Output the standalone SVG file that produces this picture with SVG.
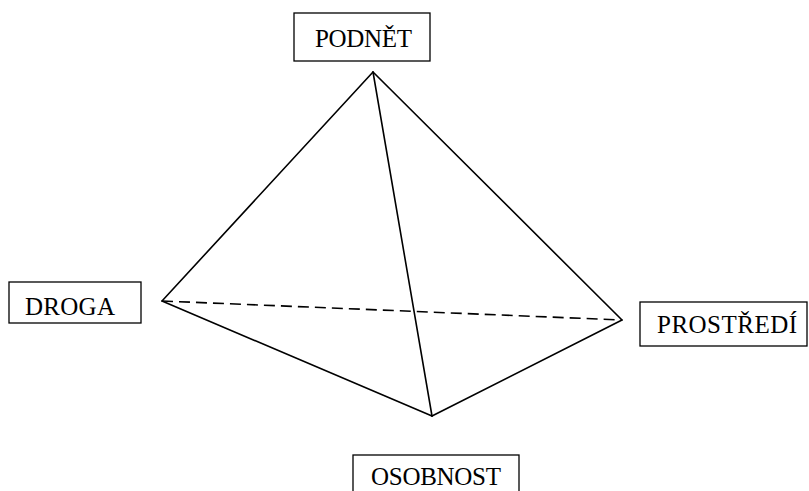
<svg xmlns="http://www.w3.org/2000/svg" width="809" height="491" viewBox="0 0 809 491">
<style>
.box{fill:#fff;stroke:#000;stroke-width:1.3}
.lbl{font-family:"Liberation Serif","Times New Roman",serif;font-size:25px;fill:#000}
.edge{stroke:#000;stroke-width:1.6;fill:none;stroke-linecap:round;stroke-linejoin:round}
.dash{stroke-dasharray:11 6;stroke-linecap:butt}
</style>
<rect width="809" height="491" fill="#fff"/>
<g id="connectors">
<line class="edge" x1="373" y1="72" x2="162" y2="301"/>
<line class="edge" x1="373" y1="72" x2="622" y2="320"/>
<line class="edge" x1="373" y1="72" x2="432" y2="416"/>
<line class="edge" x1="162" y1="301" x2="432" y2="416"/>
<line class="edge" x1="622" y1="320" x2="432" y2="416"/>
<line class="edge dash" x1="162" y1="301" x2="622" y2="320"/>
</g>
<g id="podnet">
<rect class="box" x="294" y="13" width="136" height="48"/>
<text class="lbl" x="315" y="47" textLength="97">PODNĚT</text>
</g>
<g id="droga">
<rect class="box" x="9" y="282" width="132" height="41"/>
<text class="lbl" x="25" y="315" textLength="90">DROGA</text>
</g>
<g id="prostredi">
<rect class="box" x="640" y="302" width="167" height="44"/>
<text class="lbl" x="657" y="333" textLength="140">PROSTŘEDÍ</text>
</g>
<g id="osobnost">
<rect class="box" x="353" y="455" width="166" height="50"/>
<text class="lbl" x="371" y="485" textLength="130">OSOBNOST</text>
</g>
</svg>
